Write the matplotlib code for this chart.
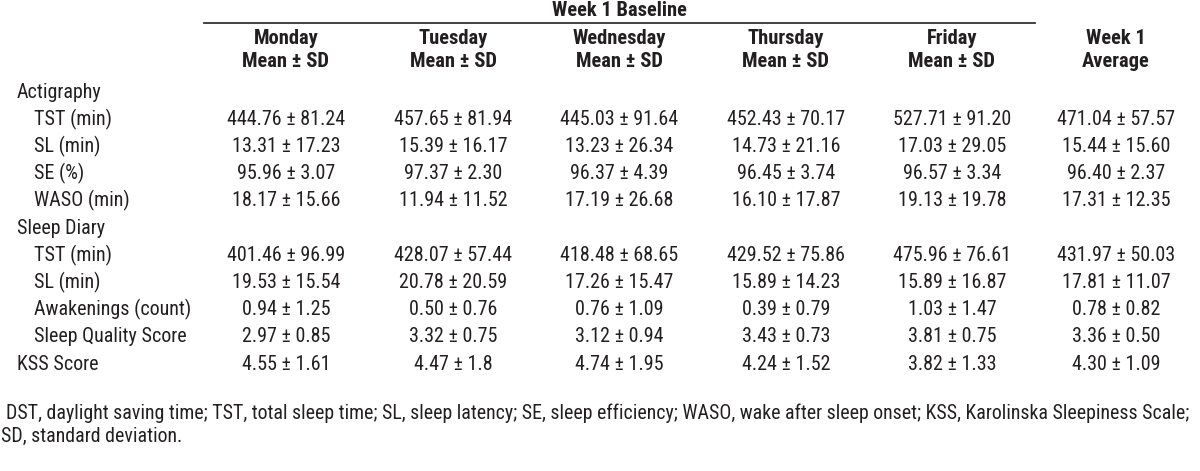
import matplotlib.pyplot as plt
from matplotlib import font_manager

# prefer a Helvetica-Narrow-like family that also has a bold face
weights = {}
for f in font_manager.fontManager.ttflist:
    w = f.weight if isinstance(f.weight, int) else (700 if 'bold' in str(f.weight) else 400)
    weights.setdefault(f.name, set()).add(w)
prefs = ['Nimbus Sans Narrow', 'Liberation Sans Narrow', 'Arial Narrow', 'Roboto Condensed',
         'Fira Sans Condensed', 'Barlow Semi Condensed', 'Liberation Sans']
family = next(n for n in prefs if n in weights and max(weights[n]) >= 600)
plt.rcParams['font.family'] = [family, 'DejaVu Sans']

# table content
group_title = 'Week 1 Baseline'
col_headers = ['Monday\nMean ± SD', 'Tuesday\nMean ± SD', 'Wednesday\nMean ± SD',
               'Thursday\nMean ± SD', 'Friday\nMean ± SD', 'Week 1\nAverage']
row_labels = ['Actigraphy', 'TST (min)', 'SL (min)', 'SE (%)', 'WASO (min)',
              'Sleep Diary', 'TST (min)', 'SL (min)', 'Awakenings (count)',
              'Sleep Quality Score', 'KSS Score']
row_indent = [0, 1, 1, 1, 1, 0, 1, 1, 1, 1, 0]
rows = [
    None,
    ['444.76 ± 81.24', '457.65 ± 81.94', '445.03 ± 91.64', '452.43 ± 70.17', '527.71 ± 91.20', '471.04 ± 57.57'],
    ['13.31 ± 17.23', '15.39 ± 16.17', '13.23 ± 26.34', '14.73 ± 21.16', '17.03 ± 29.05', '15.44 ± 15.60'],
    ['95.96 ± 3.07', '97.37 ± 2.30', '96.37 ± 4.39', '96.45 ± 3.74', '96.57 ± 3.34', '96.40 ± 2.37'],
    ['18.17 ± 15.66', '11.94 ± 11.52', '17.19 ± 26.68', '16.10 ± 17.87', '19.13 ± 19.78', '17.31 ± 12.35'],
    None,
    ['401.46 ± 96.99', '428.07 ± 57.44', '418.48 ± 68.65', '429.52 ± 75.86', '475.96 ± 76.61', '431.97 ± 50.03'],
    ['19.53 ± 15.54', '20.78 ± 20.59', '17.26 ± 15.47', '15.89 ± 14.23', '15.89 ± 16.87', '17.81 ± 11.07'],
    ['0.94 ± 1.25', '0.50 ± 0.76', '0.76 ± 1.09', '0.39 ± 0.79', '1.03 ± 1.47', '0.78 ± 0.82'],
    ['2.97 ± 0.85', '3.32 ± 0.75', '3.12 ± 0.94', '3.43 ± 0.73', '3.81 ± 0.75', '3.36 ± 0.50'],
    ['4.55 ± 1.61', '4.47 ± 1.8', '4.74 ± 1.95', '4.24 ± 1.52', '3.82 ± 1.33', '4.30 ± 1.09'],
]
footnote = ['DST, daylight saving time; TST, total sleep time; SL, sleep latency; SE, sleep efficiency; '
            'WASO, wake after sleep onset; KSS, Karolinska Sleepiness Scale;',
            'SD, standard deviation.']

# layout in pixel units
col_x = [286, 453, 619, 786, 952, 1116]
row_y0, row_dy = 92, 27.2
color = '#231f20'

fig = plt.figure(figsize=(12, 4.71), dpi=100)
ax = fig.add_axes([0, 0, 1, 1])
ax.set_xlim(0, 1200)
ax.set_ylim(471, 0)
ax.axis('off')
renderer = fig.canvas.get_renderer()


def size_for(text, target_px, **kw):
    # font size giving the text the width it has in the reference
    t = ax.text(0, 0, text, fontsize=10, **kw)
    w = t.get_window_extent(renderer).width
    t.remove()
    return 10 * target_px / w


fs = size_for('444.76 ± 81.24', 117)
fs_head = size_for('Wednesday', 94, fontweight='bold')
fs_note = size_for(footnote[0], 1172)

ax.text(619, 11, group_title, ha='center', va='center', fontsize=fs_head, fontweight='bold', color=color)
ax.plot([204, 1035], [23, 23], color='#333333', lw=1.3)
for x, h in zip(col_x, col_headers):
    ax.text(x, 50, h, ha='center', va='center', fontsize=fs_head, fontweight='bold',
            color=color, linespacing=1.25)

for i, (lab, ind, vals) in enumerate(zip(row_labels, row_indent, rows)):
    y = row_y0 + i * row_dy
    ax.text(17 + 17 * ind, y, lab, ha='left', va='center', fontsize=fs, color=color)
    if vals:
        for x, v in zip(col_x, vals):
            ax.text(x, y, v, ha='center', va='center', fontsize=fs, color=color)

ax.text(6, 413, footnote[0], ha='left', va='center', fontsize=fs_note, color=color)
ax.text(1, 436, footnote[1], ha='left', va='center', fontsize=fs_note, color=color)

fig.savefig('out.png', dpi=100)
